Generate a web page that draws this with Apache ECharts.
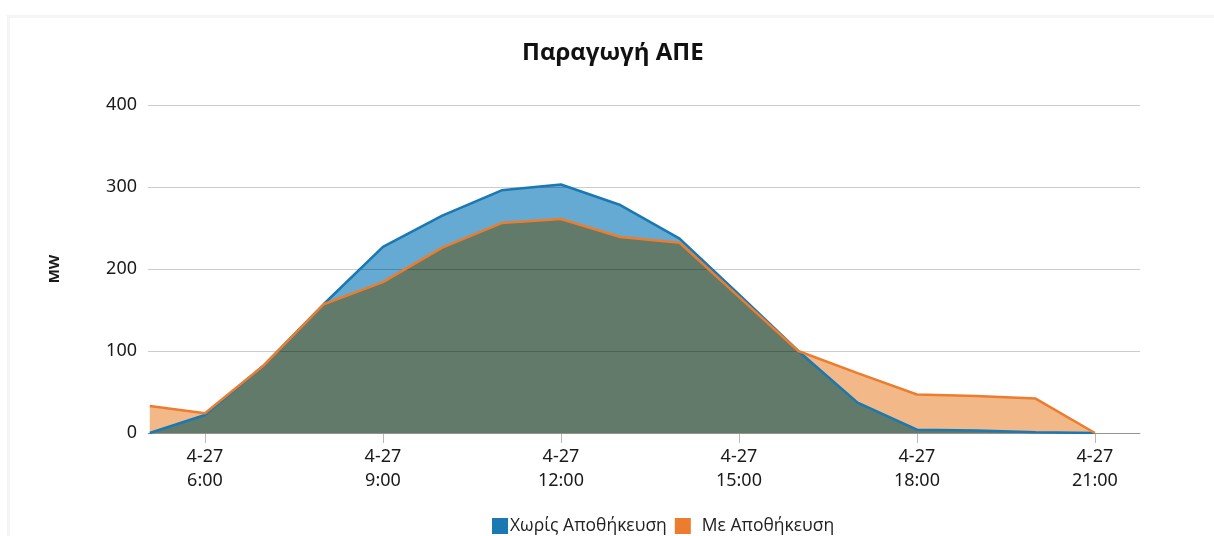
<!DOCTYPE html>
<html>
<head>
<meta charset="utf-8">
<script src="https://cdn.jsdelivr.net/npm/echarts@6/dist/echarts.min.js"></script>
<style>
  html, body { margin: 0; padding: 0; background: #fff; }
  #chart { width: 1214px; height: 536px; }
</style>
</head>
<body>
<div id="chart"></div>
<script>
// hours of the day (4-27)
const hours = [5.07, 6, 7, 8, 9, 10, 11, 12, 13, 14, 15, 16, 17, 18, 19, 20, 21]
// MW
const noStorage = [0, 22, 83, 157, 227, 265, 296, 303, 278, 237, 169, 100, 37, 4, 3, 1, 0]
const withStorage = [33, 24, 83, 157, 184, 226, 256, 261, 239, 232, 166, 100, 73, 47, 45, 42, 0]
const tickHours = [6, 9, 12, 15, 18, 21]
const yTicks = [0, 100, 200, 300, 400]
const seriesNames = ['Χωρίς Αποθήκευση', 'Με Αποθήκευση']

const pairs = vals => hours.map((h, i) => [h, vals[i]])
const overlap = noStorage.map((v, i) => Math.min(v, withStorage[i]))

const blueLine = '#1a78b2'
const blueFill = '#64aad3'
const orangeLine = '#ec7d2e'
const orangeFill = '#f2b888'
const overlapFill = '#617a6a'

const chart = echarts.init(document.getElementById('chart'))
chart.setOption({
  animation: false,
  backgroundColor: '#fff',
  graphic: [{
    type: 'rect',
    silent: true,
    z: -10,
    shape: { x: 8.5, y: 16.5, width: 1230, height: 560 },
    style: { fill: 'none', stroke: '#f3f5f7', lineWidth: 3 }
  }],
  title: {
    text: 'Παραγωγή ΑΠΕ',
    left: 517,
    top: 36,
    textStyle: { fontFamily: 'Open Sans', fontWeight: 'bold', fontSize: 24, color: '#111' }
  },
  legend: {
    data: seriesNames,
    left: 487,
    top: 512,
    icon: 'rect',
    itemWidth: 16,
    itemHeight: 16,
    itemGap: 8,
    formatter: name => name === seriesNames[1] ? '{g|}' + name : name,
    textStyle: {
      fontFamily: 'Open Sans',
      fontSize: 17.5,
      color: '#222',
      padding: [0, 0, 0, -3],
      rich: { g: { width: 9 } }
    }
  },
  grid: { left: 148, right: 74, top: 105, bottom: 103, containLabel: false },
  xAxis: {
    type: 'value',
    min: 5.04,
    max: 21.76,
    splitLine: { show: false },
    axisLine: { lineStyle: { color: '#b8b8b8', width: 1 } },
    axisTick: { show: true, customValues: tickHours, length: 10, lineStyle: { color: '#b8b8b8' } },
    axisLabel: {
      customValues: tickHours,
      margin: 12,
      fontFamily: 'Noto Sans',
      fontSize: 18,
      lineHeight: 24,
      color: '#1a1a1a',
      formatter: v => '4-27\n' + v + ':00'
    }
  },
  yAxis: {
    type: 'value',
    min: 0,
    max: 400,
    interval: 100,
    z: 5,
    name: 'MW',
    nameLocation: 'middle',
    nameGap: 86,
    nameTextStyle: { fontFamily: 'Open Sans', fontWeight: 'bold', fontSize: 15, color: '#1a1a1a' },
    axisLine: { show: false },
    axisTick: { show: false },
    splitLine: { lineStyle: { color: 'rgba(0,0,0,0.2)', width: 1 } },
    axisLabel: {
      customValues: yTicks,
      margin: 11,
      fontFamily: 'Noto Sans',
      fontSize: 18,
      color: '#1a1a1a'
    }
  },
  series: [
    {
      name: seriesNames[0],
      type: 'line',
      data: pairs(noStorage),
      showSymbol: false,
      itemStyle: { color: blueLine },
      lineStyle: { width: 0 },
      areaStyle: { color: blueFill, opacity: 1 },
      z: 2
    },
    {
      name: seriesNames[1],
      type: 'line',
      data: pairs(withStorage),
      showSymbol: false,
      itemStyle: { color: orangeLine },
      lineStyle: { width: 0 },
      areaStyle: { color: orangeFill, opacity: 1 },
      z: 2
    },
    {
      name: 'overlap',
      type: 'line',
      data: pairs(overlap),
      showSymbol: false,
      itemStyle: { color: overlapFill },
      lineStyle: { width: 0 },
      areaStyle: { color: overlapFill, opacity: 1 },
      z: 3
    },
    {
      name: seriesNames[0],
      type: 'line',
      data: pairs(noStorage),
      showSymbol: false,
      itemStyle: { color: blueLine },
      lineStyle: { color: blueLine, width: 2.5 },
      z: 6
    },
    {
      name: seriesNames[1],
      type: 'line',
      data: pairs(withStorage),
      showSymbol: false,
      itemStyle: { color: orangeLine },
      lineStyle: { color: orangeLine, width: 2.5 },
      z: 7
    }
  ]
})
</script>
</body>
</html>
